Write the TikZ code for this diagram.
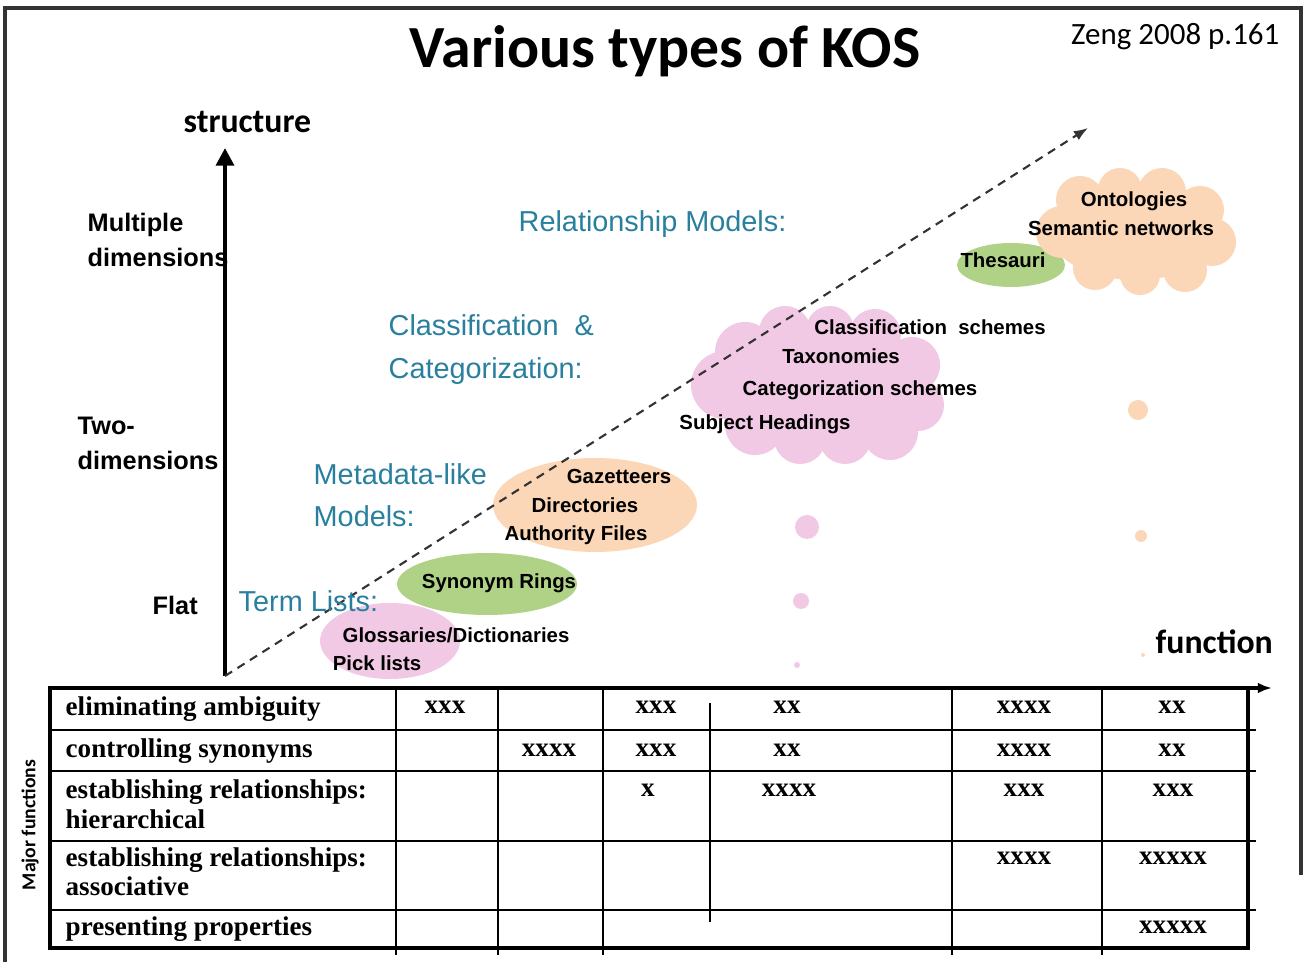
\documentclass[tikz,border=0pt]{standalone}
\usepackage{fontspec}
\setmainfont{Liberation Sans}
\newfontfamily\calfont{Carlito}
\newfontfamily\tabfont{Liberation Serif}
\usetikzlibrary{arrows.meta}

\definecolor{kosteal}{RGB}{40,128,158}
\definecolor{kospink}{RGB}{241,201,228}
\definecolor{kosgreen}{RGB}{176,210,134}
\definecolor{kospeach}{RGB}{251,214,183}

\tikzset{
  axislabel/.style={font=\bfseries\fontsize{7.2}{9}\selectfont, inner sep=0pt, anchor=base west},
  typelabel/.style={font=\fontsize{8.2}{10}\selectfont, text=kosteal, inner sep=0pt, anchor=base west},
  kosname/.style={font=\bfseries\fontsize{5.8}{7}\selectfont, inner sep=0pt, anchor=base},
  rowlabel/.style={font=\tabfont\bfseries\fontsize{7.7}{9}\selectfont, inner sep=0pt, anchor=base west},
  xcell/.style={font=\tabfont\bfseries\fontsize{7.7}{9}\selectfont, inner sep=0pt, anchor=base},
  thinrule/.style={line width=0.6pt},
  thickrule/.style={line width=1.2pt},
}

\begin{document}
\begin{tikzpicture}[x=0.01cm,y=-0.01cm]

    \useasboundingbox (0,0) rectangle (1304,962);

    % frame
    \draw[line width=0.9pt, black!80] (5,962) -- (5,8) -- (1301,8) -- (1301,875);

    % term lists, metadata
    \fill[kospink] (390,641) ellipse [x radius=70, y radius=38];
    \fill[kosgreen] (487,584) ellipse [x radius=90, y radius=31];
    \fill[kospeach] (595,505) ellipse [x radius=102, y radius=47];

    % classification cloud
    \fill[kospink] (820,385) ellipse [x radius=110, y radius=62];
    \foreach \cx/\cy/\r in {725/385/34, 745/352/30, 785/332/26, 830/330/24, 875/335/26,
                            912/365/28, 918/405/26, 890/432/28, 845/438/26, 800/438/26,
                            755/425/30}
        \fill[kospink] (\cx,\cy) circle [radius=\r];
    \fill[kospink] (807,527) circle [radius=12];
    \fill[kospink] (801,601) circle [radius=8];
    \fill[kospink] (797,665) circle [radius=3];

    % relationship models
    \fill[kosgreen] (1011,265) ellipse [x radius=54, y radius=22];
    \fill[kospeach] (1135,232) ellipse [x radius=85, y radius=48];
    \foreach \cx/\cy/\r in {1062/232/26, 1080/200/24, 1120/190/22, 1162/192/24, 1200/210/24,
                            1212/242/24, 1185/270/22, 1140/275/20, 1095/268/22}
        \fill[kospeach] (\cx,\cy) circle [radius=\r];
    \fill[kospeach] (1138,410) circle [radius=10];
    \fill[kospeach] (1141,536) circle [radius=6];
    \fill[kospeach] (1143,655) circle [radius=2];

    % axes
    \coordinate (origin) at (225,676);
    \coordinate (ytop) at (225,148);
    \coordinate (dtip) at (1088,128);
    \draw[thickrule, -{Triangle[width=5pt,length=5pt]}] (origin) -- (ytop);
    \draw[line width=0.6pt, black!80, dash pattern=on 2.4pt off 1.8pt,
          -{Latex[length=4pt,width=3pt]}] (origin) -- (dtip);

    % texts of the chart
    \node[font=\calfont\bfseries\fontsize{17}{20}\selectfont, inner sep=0pt, anchor=base]
        (title) at (665,68) {Various types of KOS};
    \node[font=\calfont\fontsize{8.8}{10}\selectfont, inner sep=0pt, anchor=base east]
        (src) at (1280,45) {Zeng 2008 p.161};
    \node[font=\calfont\bfseries\fontsize{9.6}{11}\selectfont, inner sep=0pt, anchor=base west]
        (ylabel) at (183,133) {structure};
    \node[font=\calfont\bfseries\fontsize{9.6}{11}\selectfont, inner sep=0pt, anchor=base west]
        (xlabel) at (1155,654) {function};

    \node[axislabel] (multi1) at (87,232) {Multiple};
    \node[axislabel] (multi2) at (87,267) {dimensions};
    \node[axislabel] (two1) at (77,435) {Two-};
    \node[axislabel] (two2) at (77,470) {dimensions};
    \node[axislabel] (flat) at (152,615) {Flat};

    \node[typelabel] (relmod) at (518,232) {Relationship Models:};
    \node[typelabel] (class1) at (388,336) {Classification \ \&};
    \node[typelabel] (class2) at (388,379) {Categorization:};
    \node[typelabel] (meta1) at (313,485) {Metadata-like};
    \node[typelabel] (meta2) at (313,527) {Models:};
    \node[typelabel] (term) at (238,612) {Term Lists:};

    \node[kosname] (gloss) at (456,643) {Glossaries/Dictionaries};
    \node[kosname] (pick) at (377,671) {Pick lists};
    \node[kosname] (syn) at (499,589) {Synonym Rings};
    \node[kosname] (gaz) at (619,484) {Gazetteers};
    \node[kosname] (dir) at (585,513) {Directories};
    \node[kosname] (auth) at (576,541) {Authority Files};
    \node[kosname] (clsch) at (930,335) {Classification \ schemes};
    \node[kosname] (tax) at (841,364) {Taxonomies};
    \node[kosname] (catsch) at (860,396) {Categorization schemes};
    \node[kosname] (subj) at (765,430) {Subject Headings};
    \node[kosname] (thes) at (1003,268) {Thesauri};
    \node[kosname] (onto) at (1134,207) {Ontologies};
    \node[kosname] (sem) at (1121,236) {Semantic networks};

    % table
    \coordinate (tleft) at (50,688);
    \coordinate (xtip) at (1272,688);
    \draw[thickrule] (50,688) rectangle (1248,948);
    \draw[thickrule, -{Latex[length=4pt,width=3pt]}] (tleft) -- (xtip);
    \foreach \y in {730,771,841,910}
        \draw[thinrule] (50,\y) -- (1256,\y);
    \foreach \x in {396,498,603,952,1102}
        \draw[thinrule] (\x,688) -- (\x,955);
    \draw[thinrule] (710,703) -- (710,922);

    \node[font=\calfont\bfseries\fontsize{5.6}{7}\selectfont, inner sep=0pt, rotate=90]
        (major) at (30,825) {Major functions};

    \node[rowlabel] (amb) at (65,716) {eliminating ambiguity};
    \node[rowlabel] (syno) at (65,758) {controlling synonyms};
    \node[rowlabel] (hier1) at (65,798) {establishing relationships:};
    \node[rowlabel] (hier2) at (65,828) {hierarchical};
    \node[rowlabel] (asso1) at (65,866) {establishing relationships:};
    \node[rowlabel] (asso2) at (65,895) {associative};
    \node[rowlabel] (prop) at (65,935) {presenting properties};

    \foreach \x/\y/\m [count=\k] in {445/714/xxx, 656/714/xxx, 787/714/xx, 1024/714/xxxx, 1172/714/xx,
                                     549/756/xxxx, 656/756/xxx, 787/756/xx, 1024/756/xxxx, 1172/756/xx,
                                     648/796/x, 789/796/xxxx, 1024/796/xxx, 1173/796/xxx,
                                     1024/864/xxxx, 1173/864/xxxxx,
                                     1173/933/xxxxx}
        \node[xcell] (cell\k) at (\x,\y) {\m};

\end{tikzpicture}
\end{document}
